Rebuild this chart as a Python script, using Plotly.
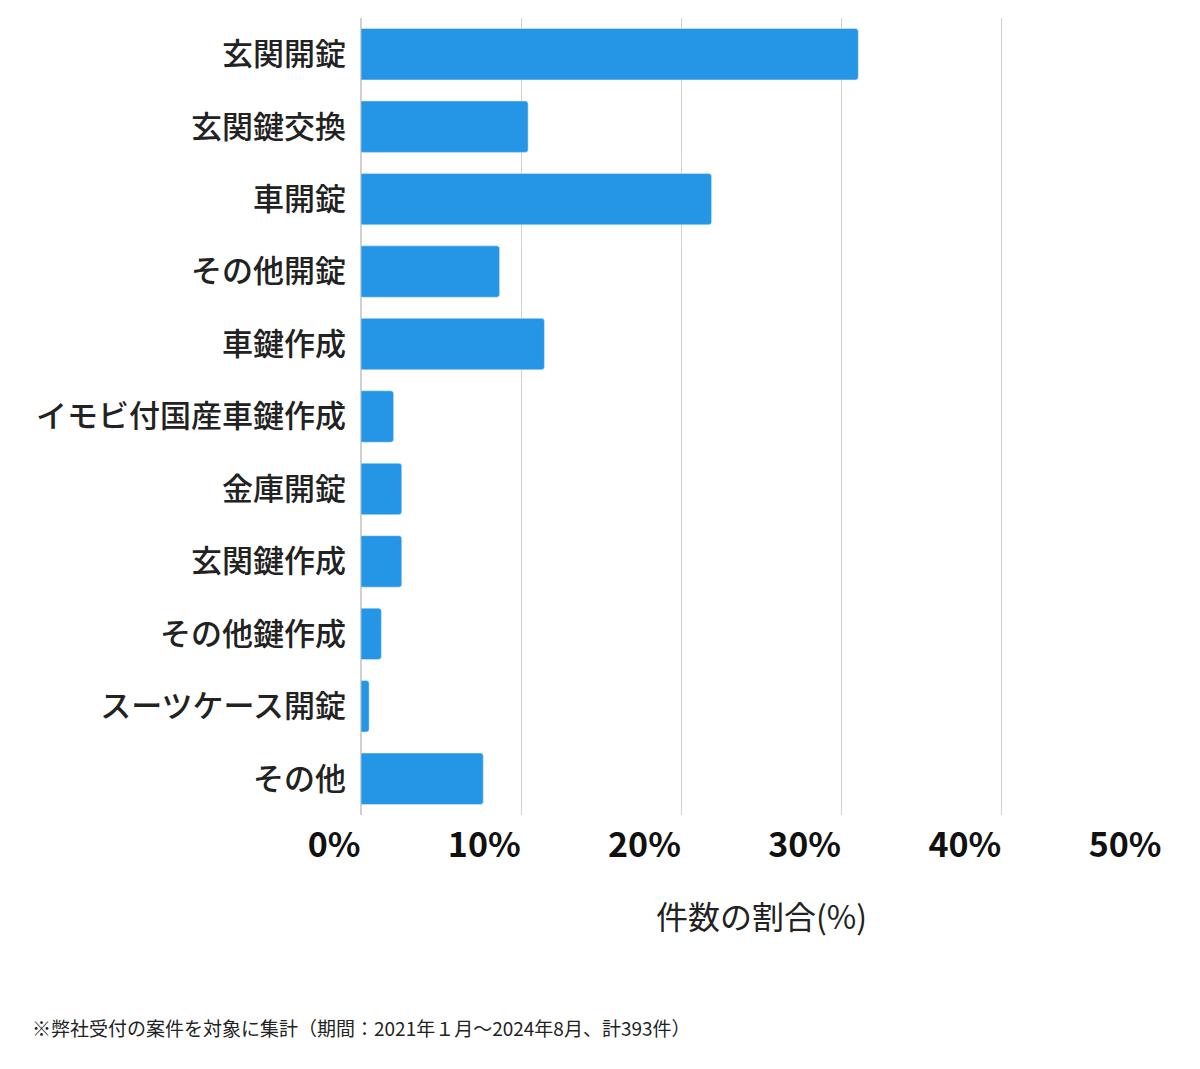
import plotly.graph_objects as go

categories = ["玄関開錠","玄関鍵交換","車開錠","その他開錠","車鍵作成","イモビ付国産車鍵作成",
              "金庫開錠","玄関鍵作成","その他鍵作成","スーツケース開錠","その他"]
counts = [122,41,86,34,45,8,10,10,5,2,30]
total = 393
values = [c/total*100 for c in counts]
tick_vals = [0,10,20,30,40,50]
tick_text = ["0%","10%","20%","30%","40%","50%"]

F = "Noto Sans CJK JP"
W, H = 1200, 1069
L, R, T, B = 353, 46, 10, 262
fig = go.Figure(go.Bar(x=values, y=categories, orientation="h",
                       marker=dict(color="#2596e6", cornerradius=3)))
fig.update_layout(
    width=W, height=H, paper_bgcolor="white", plot_bgcolor="white",
    margin=dict(l=L, r=R, t=T, b=B), bargap=0.29, showlegend=False,
    font=dict(family=F, color="#222"),
    xaxis=dict(range=[0,50], tickvals=tick_vals, ticktext=tick_text,
               ticklabelposition="outside left", showgrid=True, gridcolor="#d0d0d0",
               gridwidth=1, zeroline=True, zerolinecolor="#d0d0d0",
               ticks="outside", ticklen=18, tickcolor="rgba(0,0,0,0)",
               tickfont=dict(family=F, size=34, color="#111", weight="bold"),
               title=dict(text="件数の割合(%)", font=dict(family=F, size=32, color="#222"), standoff=40)),
    yaxis=dict(autorange="reversed", tickfont=dict(family=F, size=31, color="#222", weight=500),
               ticksuffix="  "),
)
pw, ph = W - L - R, H - T - B
fig.add_annotation(text="※弊社受付の案件を対象に集計（期間：2021年１月〜2024年8月、計393件）",
                   xref="paper", yref="paper", x=(22 - L) / pw, y=-(1020 - (H - B - 8 + 8) + 0) / ph,
                   showarrow=False, xanchor="left", yanchor="middle",
                   font=dict(family=F, size=19, color="#222"))
fig.write_html("out.html")
